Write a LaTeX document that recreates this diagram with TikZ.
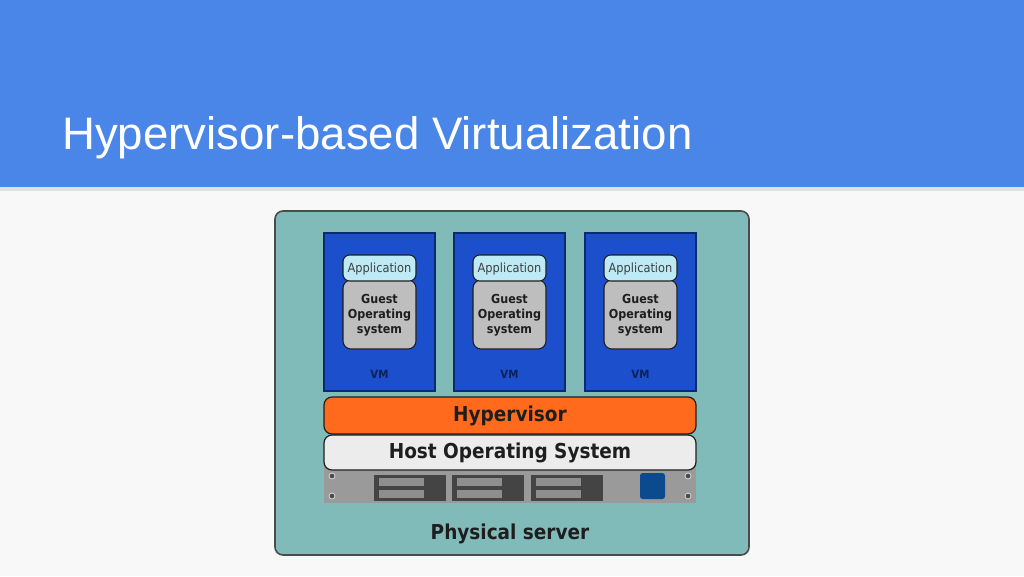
\documentclass[tikz,border=0pt]{standalone}
\usepackage{fontspec}
\setmainfont{Liberation Sans}
\newfontfamily\dv{DejaVu Sans Condensed}
\definecolor{titlebar}{HTML}{4A86E8}
\definecolor{pagebg}{HTML}{F8F8F8}
\definecolor{teal}{HTML}{80BBBA}
\definecolor{vmblue}{HTML}{1B4FCB}
\definecolor{vmline}{HTML}{0E2A6E}
\definecolor{appcyan}{HTML}{BDEAF5}
\definecolor{osgray}{HTML}{BEBEBE}
\definecolor{hvorange}{HTML}{FF6A1C}
\definecolor{hostgray}{HTML}{ECECEC}
\definecolor{rackgray}{HTML}{9A9A9A}
\definecolor{baydark}{HTML}{444444}
\definecolor{slotgray}{HTML}{8E8E8E}
\definecolor{btnblue}{HTML}{0B4A8C}
\definecolor{ink}{HTML}{1E1E1E}
\definecolor{navytext}{HTML}{0B2157}
\tikzset{
  outerbox/.style={draw=ink!80, line width=1.2pt, fill=teal, rounded corners=6pt},
  vmbox/.style={draw=vmline, line width=1pt, fill=vmblue},
  appbox/.style={draw=ink, line width=0.8pt, fill=appcyan, rounded corners=5pt},
  apptext/.style={font=\dv\fontsize{9.5}{11}\selectfont, text=ink!85},
  osbox/.style={draw=ink, line width=0.8pt, fill=osgray, rounded corners=6pt},
  ostext/.style={font=\dv\bfseries\fontsize{9.3}{11.2}\selectfont, text=ink, align=center},
  vmlabel/.style={font=\dv\bfseries\fontsize{8.5}{10}\selectfont, text=navytext},
  layer/.style={draw=ink, line width=0.9pt, rounded corners=6pt},
  layertext/.style={font=\dv\bfseries\fontsize{15.4}{18}\selectfont, text=ink},
  bay/.style={fill=baydark},
  slot/.style={fill=slotgray, draw=baydark, line width=0.4pt},
  screw/.style={fill=ink!80, draw=white!85!black, line width=0.6pt},
}
\begin{document}
\begin{tikzpicture}[x=0.75pt,y=-0.75pt]
\useasboundingbox (0,0) rectangle (1024,576);
\fill[pagebg] (0,0) rectangle (1024,576);
% title bar with shadow
\fill[black!12] (0,187) rectangle (1024,191);
\fill[titlebar] (0,0) rectangle (1024,187);
\node[anchor=base west, text=white, font=\fontsize{34.2}{40}\selectfont, inner sep=0] (title) at (62,149) {Hypervisor-based Virtualization};
% outer physical server
\draw[outerbox] (275,211) rectangle (749,555);
\node[layertext] (phys) at (510,534) {Physical server};
% VMs
\foreach \i/\x in {1/379.5,2/509.5,3/640.5}{
  \draw[vmbox] ({\x-55.5},233) rectangle ({\x+55.5},391);
  \draw[osbox] ({\x-36.5},280) rectangle ({\x+36.5},349);
  \node[ostext] (os\i) at (\x,315) {Guest\\Operating\\system};
  \draw[appbox] ({\x-36.5},255) rectangle ({\x+36.5},281);
  \node[apptext] (app\i) at (\x,268.5) {Application};
  \node[vmlabel] (vm\i) at (\x,374) {VM};
}
% hypervisor & host OS
\draw[layer, fill=hvorange] (324,397) rectangle (696,434);
\node[layertext] (hv) at (510,415.5) {Hypervisor};
% rack
\fill[rackgray] (324,462) rectangle (696,503);
\draw[layer, fill=hostgray] (324,435) rectangle (696,470);
\node[layertext] (host) at (510,452.5) {Host Operating System};
\foreach \x in {374,452,531}{
  \fill[bay] (\x,475) rectangle ++(72,26);
  \fill[slot] (\x+4,477.5) rectangle ++(46,9);
  \fill[slot] (\x+4,489) rectangle ++(46,9);
}
\fill[btnblue, rounded corners=2pt] (640,473) rectangle (665,499);
\foreach \x in {332,688}{
  \foreach \y in {476,496}{
    \draw[screw] (\x,\y) circle (3);
  }
}
\end{tikzpicture}
\end{document}
